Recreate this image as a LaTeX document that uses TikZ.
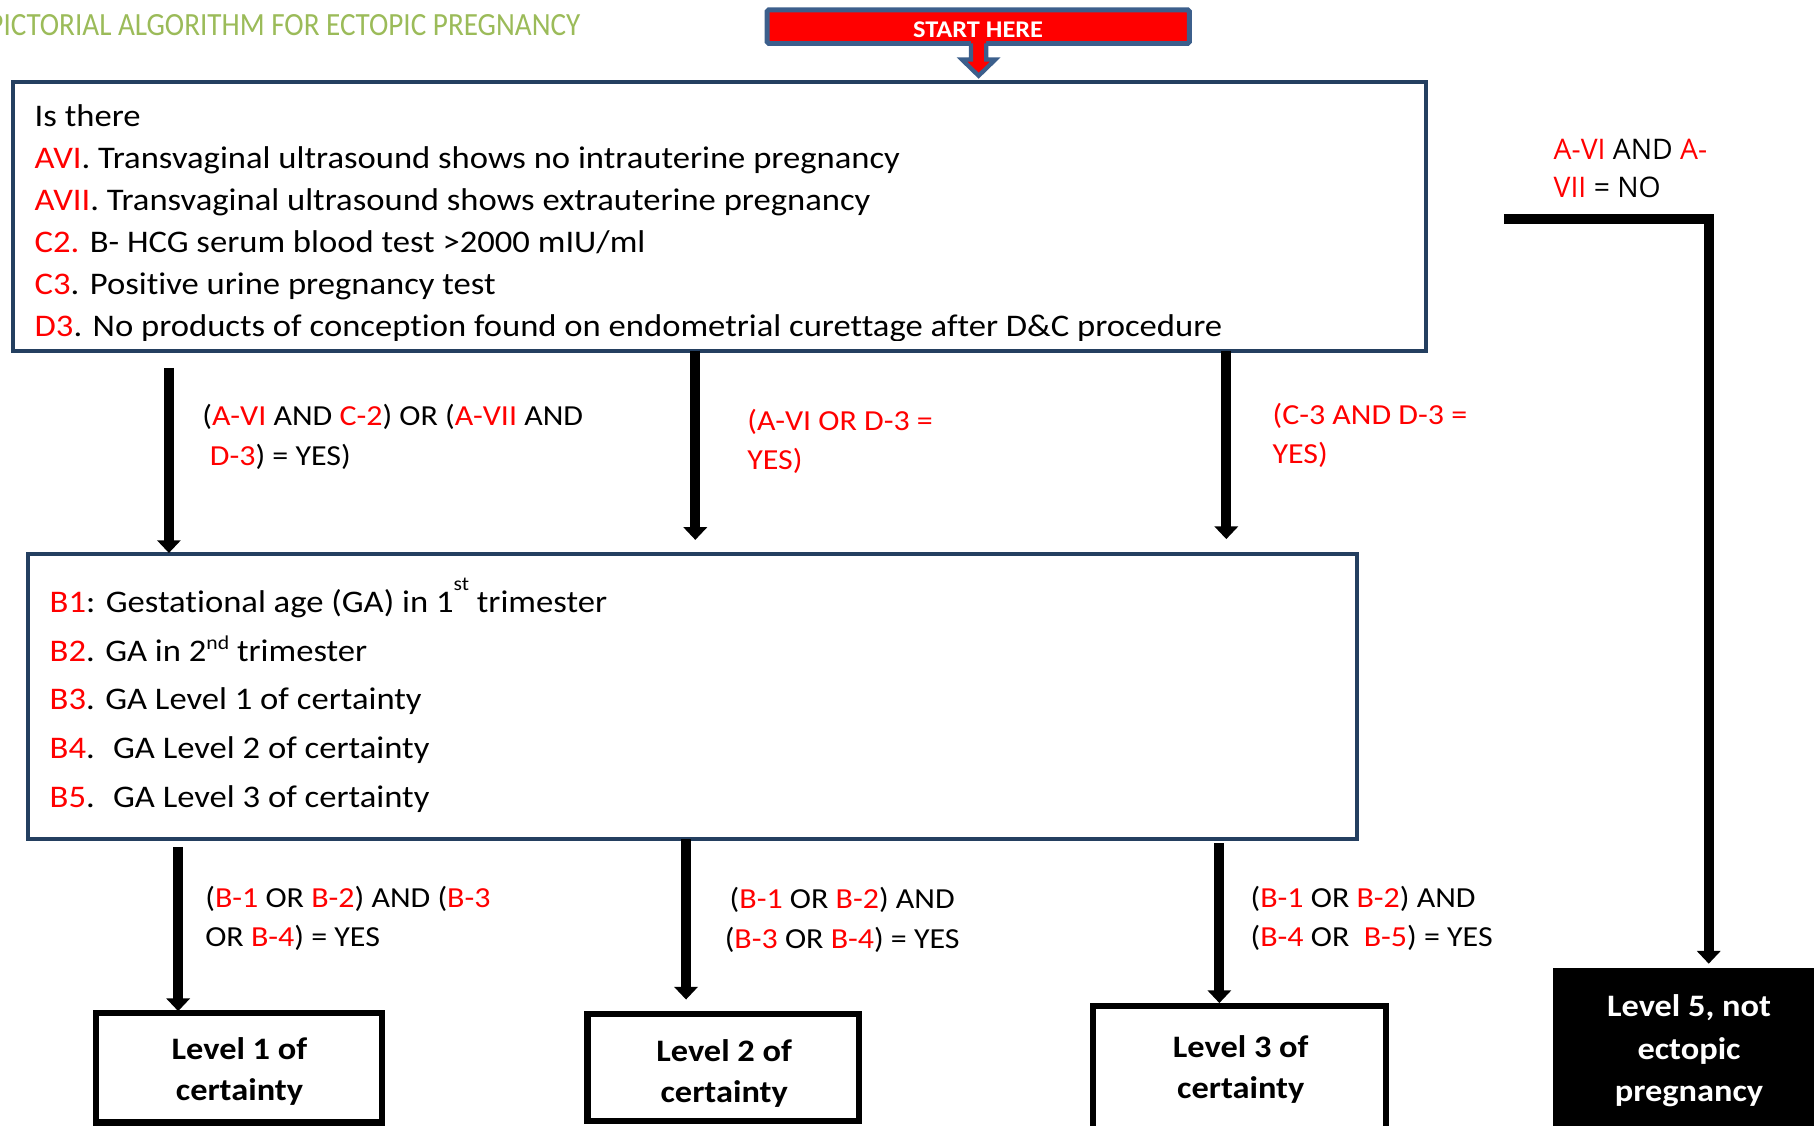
\documentclass[tikz,border=0pt]{standalone}
\usepackage{fontspec}
\setmainfont{Carlito}[FakeStretch=1.1,Ligatures=NoCommon]
\newfontfamily\titlefont{Carlito}[FakeStretch=0.9,Ligatures=NoCommon]
\newfontfamily\osfont{Open Sans}
\usetikzlibrary{arrows.meta}
\definecolor{navy}{HTML}{243F60}
\definecolor{startblue}{HTML}{3C5F8C}
\definecolor{titlegreen}{HTML}{9BBB59}
\newcommand{\rd}[1]{\textcolor{red}{#1}}
\newcommand{\mainsz}{\fontsize{27.2}{32}\selectfont}
\newcommand{\lblsz}{\fontsize{25.1}{30}\selectfont}
\newcommand{\lvlsz}{\bfseries\fontsize{27}{32}\selectfont}
\newcommand{\supsz}{\fontsize{17}{17}\selectfont}
\tikzset{
  txt/.style={anchor=base west, inner sep=0, outer sep=0},
  maintxt/.style={txt, font=\mainsz},
  lbltxt/.style={txt, font=\lblsz},
  lvltxt/.style={anchor=base, inner sep=0, outer sep=0, font=\lvlsz},
  bluebox/.style={draw=navy, line width=3.5pt, inner sep=0, outer sep=0},
  lvlbox/.style={draw=black, line width=5.5pt, inner sep=0, outer sep=0, fill=white},
  arr/.style={line width=8.5pt, -{Triangle[width=20pt,length=11pt]}},
}
\begin{document}
\begin{tikzpicture}[x=1pt,y=-1pt]
\useasboundingbox (0,0) rectangle (1568,973);
\clip (0,0) rectangle (1568,973);

% title
\node[txt, text=titlegreen, font=\titlefont\fontsize{28}{30}\selectfont] (title) at (-10,31) {PICTORIAL ALGORITHM FOR ECTOPIC PREGNANCY};

% start here
\node[draw=startblue, line width=4.3pt, fill=red, minimum width=365pt, minimum height=29.1pt, rounded corners=1.5pt, inner sep=0, outer sep=0] (start) at (845.5,23.05) {};
\fill[red] (839.4,35.5) -- (839.4,51.5) -- (831.5,51.5) -- (845.9,65.5) -- (860.3,51.5) -- (852.4,51.5) -- (852.4,35.5) -- cycle;
\draw[startblue, line width=3.7pt, line join=miter] (839.4,37.6) -- (839.4,51.5) -- (831.5,51.5) -- (845.9,65.5) -- (860.3,51.5) -- (852.4,51.5) -- (852.4,37.6);
\node[anchor=base, inner sep=0, text=white, font=\bfseries\fontsize{20.7}{24}\selectfont] (starttxt) at (845.5,32.3) {START HERE};

% box 1
\node[bluebox, minimum width=1221.7pt, minimum height=232.4pt] (box1) at (621.85,186.8) {};
\begin{scope}
\clip (11,70.6) rectangle (1232.7,294);
\node[maintxt] (q0) at (30,109.5) {Is there};
\node[maintxt] (q1) at (30,145.8) {\rd{AVI}. Transvaginal ultrasound shows no intrauterine pregnancy};
\node[maintxt] (q2) at (30,182.1) {\rd{AVII}. Transvaginal ultrasound shows extrauterine pregnancy};
\node[maintxt] (q3) at (30,218.4) {\rd{C2.} B- HCG serum blood test >2000 mIU/ml};
\node[maintxt] (q4) at (30,254.7) {\rd{C3}. Positive urine pregnancy test};
\node[maintxt] (q5) at (30,291) {\rd{D3}. No products of conception found on endometrial curettage after D\&C procedure};
\end{scope}

% box 2
\node[bluebox, minimum width=1149pt, minimum height=246.5pt] (box2) at (598.5,602.25) {};
\node[maintxt] (b1) at (43,529.5) {\rd{B1}: Gestational age (GA) in 1\raisebox{19.5pt}{\supsz st} trimester};
\node[maintxt] (b2) at (43,571.6) {\rd{B2}. GA in 2\raisebox{10pt}{\supsz nd} trimester};
\node[maintxt] (b3) at (43,613.7) {\rd{B3}. GA Level 1 of certainty};
\node[maintxt] (b4) at (43,655.8) {\rd{B4}.~ GA Level 2 of certainty};
\node[maintxt] (b5) at (43,697.9) {\rd{B5}.~ GA Level 3 of certainty};

% level boxes
\node[lvlbox, minimum width=247.5pt, minimum height=94.5pt] (lvl1) at (206.5,923) {};
\node[lvlbox, minimum width=234.5pt, minimum height=92pt] (lvl2) at (625,922.75) {};
\node[lvlbox, minimum width=253.5pt, minimum height=115.25pt] (lvl3) at (1071.5,927.4) {};
\node[fill=black, inner sep=0, outer sep=0, minimum width=240pt, minimum height=200pt, anchor=north] (lvl5) at (1462,836.7) {};

\node[lvltxt] (lvl1a) at (207,915.5) {Level 1 of};
\node[lvltxt] (lvl1b) at (207,951.5) {certainty};
\node[lvltxt] (lvl2a) at (626,917.5) {Level 2 of};
\node[lvltxt] (lvl2b) at (626,953) {certainty};
\node[lvltxt] (lvl3a) at (1072.5,914) {Level 3 of};
\node[lvltxt] (lvl3b) at (1072.5,949.5) {certainty};
\node[lvltxt, text=white] (lvl5a) at (1460,879) {Level 5, not};
\node[lvltxt, text=white] (lvl5b) at (1460,916) {ectopic};
\node[lvltxt, text=white] (lvl5c) at (1460,952.5) {pregnancy};

% labels
\node[lbltxt] (l1a) at (175,368) {(\rd{A-VI} AND \rd{C-2}) OR (\rd{A-VII} AND};
\node[lbltxt] (l1b) at (181.5,402) {\rd{D-3}) = YES)};
\node[lbltxt] (l2a) at (646,372) {\rd{(A-VI OR D-3 =}};
\node[lbltxt] (l2b) at (646,406) {\rd{YES)}};
\node[lbltxt] (l3a) at (1100,367) {\rd{(C-3 AND D-3 =}};
\node[lbltxt] (l3b) at (1100,401) {\rd{YES)}};
\node[txt, font=\osfont\fontsize{24.5}{30}\selectfont] (noa) at (1343,137.7) {\rd{A-VI} AND \rd{A-}};
\node[txt, font=\osfont\fontsize{24.5}{30}\selectfont] (nob) at (1343,171) {\rd{VII} = NO};
\node[lbltxt] (lb1a) at (177.5,784) {(\rd{B-1} OR \rd{B-2}) AND (\rd{B-3}};
\node[lbltxt] (lb1b) at (177.5,818) {OR \rd{B-4}) = YES};
\node[lbltxt, anchor=base] (lb2a) at (728,785.5) {(\rd{B-1} OR \rd{B-2}) AND};
\node[lbltxt, anchor=base] (lb2b) at (728,819.5) {(\rd{B-3} OR \rd{B-4}) = YES};
\node[lbltxt] (lb3a) at (1081,784) {(\rd{B-1} OR \rd{B-2}) AND};
\node[lbltxt] (lb3b) at (1081,818.5) {(\rd{B-4} OR~ \rd{B-5}) = YES};

% connectors
\draw[arr] ([shift={(135,15)}]box1.south west) -- ([shift={(122,-1)}]box2.north west);
\draw[arr] ([shift={(590,0)}]box1.south west) -- ([shift={(577,-12.3)}]box2.north west);
\draw[arr] ([shift={(1049,0)}]box1.south west) -- ([shift={(1036,-13)}]box2.north west);
\coordinate (nostart) at (1300,189.5);
\draw[arr, line join=miter] (nostart) -| ([shift={(15,-3.7)}]lvl5.north);
\draw[arr] ([shift={(130,6.5)}]box2.south west) -- ([shift={(-52.5,-1.75)}]lvl1.north);
\draw[arr] ([shift={(569,0)}]box2.south west) -- ([shift={(-32,-12.75)}]lvl2.north);
\draw[arr] ([shift={(1030,3.2)}]box2.south west) -- ([shift={(-17.5,-2.75)}]lvl3.north);
\end{tikzpicture}
\end{document}
